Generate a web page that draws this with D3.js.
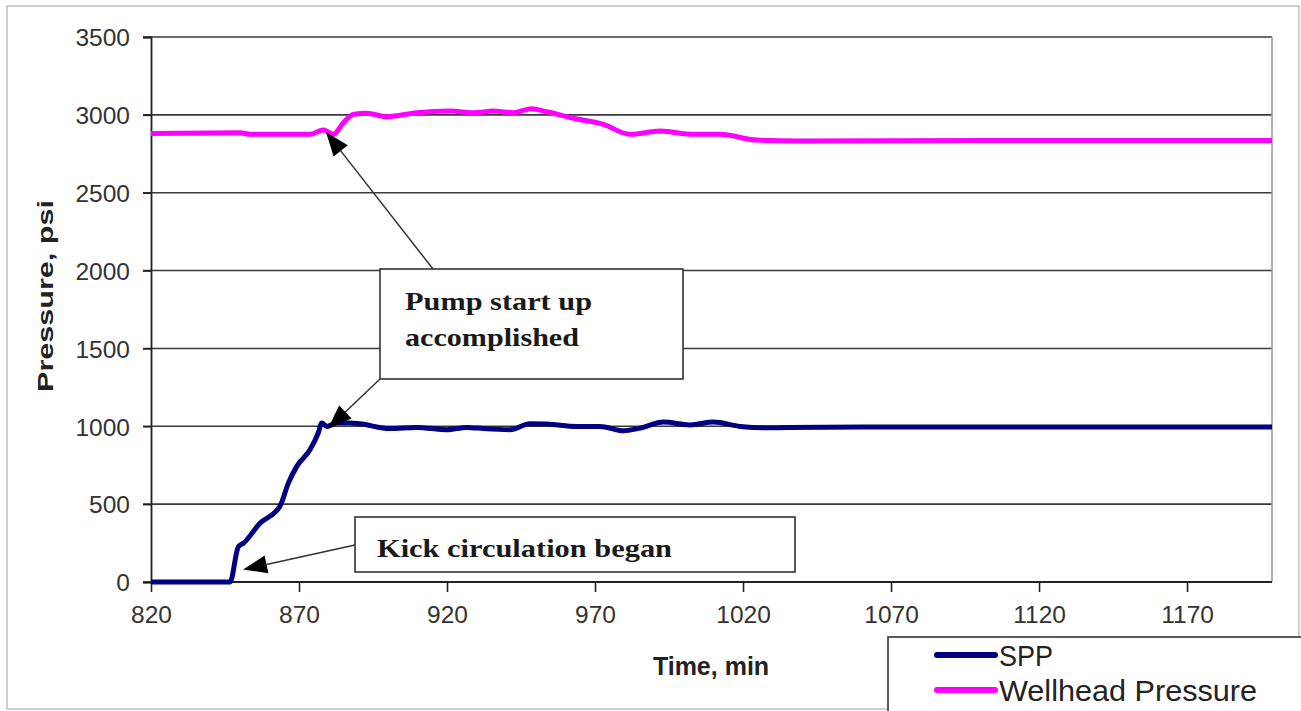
<!DOCTYPE html>
<html>
<head>
<meta charset="utf-8">
<script src="https://cdn.jsdelivr.net/npm/d3@7/dist/d3.min.js"></script>
<style>
  html, body { margin: 0; padding: 0; background: #fff; }
  svg { display: block; }
</style>
</head>
<body>
<svg id="chart" width="1301" height="711"></svg>
<script>
// ---- Data ----
const sppTime  = [820, 846.7, 849.5, 851.2, 856.8, 863.6, 866.4, 869.2, 873.7, 876.5, 877.7, 879.4, 882.7, 887.2, 890.6, 900.7, 909.8, 919.9, 926.7, 932.3, 941.3, 948, 953.7, 963.8, 971.7, 979.6, 985.2, 993.1, 1002.1, 1010, 1019, 1026.9, 1034.8, 1060, 1100, 1150, 1198.7];
const sppValue = [0, 0, 227, 249, 377, 488, 635, 741, 849, 957, 1021, 999, 1021, 1021, 1016, 985, 993, 978, 993, 985, 978, 1016, 1014, 999, 999, 971, 988, 1027, 1009, 1027, 999, 990, 992, 995, 995, 995, 995];

const whTime  = [820, 850.1, 853.4, 873.7, 878.2, 881.6, 885, 888.3, 892.9, 899.6, 909.8, 921, 928.9, 935.7, 942.4, 948.6, 953.7, 962.7, 972.8, 981.8, 992, 1003.2, 1012.2, 1024.6, 1038.8, 1100, 1198.7];
const whValue = [2880, 2885, 2875, 2875, 2902, 2875, 2950, 3003, 3010, 2988, 3014, 3024, 3014, 3024, 3014, 3040, 3020, 2978, 2939, 2875, 2896, 2875, 2875, 2838, 2832, 2835, 2835];

const xTicks = [820, 870, 920, 970, 1020, 1070, 1120, 1170];
const yTicks = [0, 500, 1000, 1500, 2000, 2500, 3000, 3500];
const seriesNames = ["SPP", "Wellhead Pressure"];
const seriesColors = ["#000080", "#ff00ff"];
const annotationLines = [["Pump start up", "accomplished"], ["Kick circulation began"]];
// arrow targets in data coordinates (time, psi)
const arrowTargetTime  = [879.1, 879.8, 851.1];
const arrowTargetValue = [2890, 985, 80];

// ---- Layout ----
const svg = d3.select("#chart");
const x = d3.scaleLinear().domain([820, 1198.7]).range([151, 1272]);
const y = d3.scaleLinear().domain([0, 3500]).range([582, 37]);
const sans = "Liberation Sans, Arial, sans-serif";

// outer frame
svg.append("rect").attr("x", 7).attr("y", 6).attr("width", 1292).attr("height", 703)
  .attr("fill", "#fff").attr("stroke", "#b0b0b0").attr("stroke-width", 1.2);

// gridlines
svg.append("g").selectAll("line").data(yTicks).join("line")
  .attr("x1", 143).attr("x2", 1272)
  .attr("y1", d => y(d)).attr("y2", d => y(d))
  .attr("stroke", "#3a3a3a").attr("stroke-width", 1.6);

// right border
svg.append("line").attr("x1", 1272).attr("x2", 1272).attr("y1", y(3500)).attr("y2", y(0))
  .attr("stroke", "#999").attr("stroke-width", 1.5);

// Y axis
const yAxis = svg.append("g").attr("transform", "translate(151,0)")
  .call(d3.axisLeft(y).tickValues(yTicks).tickSize(8).tickPadding(13).tickFormat(d3.format("d")));
yAxis.select(".domain").attr("stroke", "#222").attr("stroke-width", 1.8);
yAxis.selectAll(".tick line").attr("stroke", "#222").attr("stroke-width", 1.6);
yAxis.selectAll(".tick text").attr("font-family", sans)
  .attr("font-size", 24.5).attr("fill", "#333").attr("dy", "0.36em");

// X axis
const xAxis = svg.append("g").attr("transform", `translate(0,${y(0)})`)
  .call(d3.axisBottom(x).tickValues(xTicks).tickSize(10).tickPadding(14).tickFormat(d3.format("d")));
xAxis.select(".domain").attr("stroke", "#222").attr("stroke-width", 1.8).attr("d", `M151,0H1272`);
xAxis.selectAll(".tick line").attr("stroke", "#222").attr("stroke-width", 1.6);
xAxis.selectAll(".tick text").attr("font-family", sans)
  .attr("font-size", 24.5).attr("fill", "#333");

// axis titles
svg.append("text").attr("x", 711).attr("y", 675).attr("text-anchor", "middle")
  .attr("font-family", sans).attr("font-weight", "bold")
  .attr("font-size", 25).attr("fill", "#222").text("Time, min");
svg.append("text").attr("transform", "translate(53,296) rotate(-90)").attr("text-anchor", "middle")
  .attr("font-family", sans).attr("font-weight", "bold")
  .attr("font-size", 22).attr("fill", "#222")
  .attr("textLength", 192).attr("lengthAdjust", "spacingAndGlyphs").text("Pressure, psi");

// lines
const line = d3.line().x(d => x(d[0])).y(d => y(d[1])).curve(d3.curveMonotoneX);
const sppData = sppTime.map((t, i) => [t, sppValue[i]]);
const whData = whTime.map((t, i) => [t, whValue[i]]);
svg.append("path").datum(whData).attr("d", line).attr("fill", "none")
  .attr("stroke", seriesColors[1]).attr("stroke-width", 5).attr("stroke-linejoin", "round");
svg.append("path").datum(sppData).attr("d", line).attr("fill", "none")
  .attr("stroke", seriesColors[0]).attr("stroke-width", 5).attr("stroke-linejoin", "round");

// annotation boxes
const serif = "Liberation Serif, Times New Roman, serif";
const box1 = {x: 380, y: 269, w: 303, h: 110};
const box2 = {x: 355, y: 517, w: 440, h: 55};
[box1, box2].forEach(b => {
  svg.append("rect").attr("x", b.x).attr("y", b.y).attr("width", b.w).attr("height", b.h)
    .attr("fill", "#fff").attr("stroke", "#333").attr("stroke-width", 1.6);
});
svg.append("text").attr("x", 405).attr("y", 310).attr("font-family", serif).attr("font-weight", "bold")
  .attr("font-size", 26).attr("fill", "#1a1a1a").attr("textLength", 187).attr("lengthAdjust", "spacingAndGlyphs")
  .text(annotationLines[0][0]);
svg.append("text").attr("x", 405).attr("y", 346).attr("font-family", serif).attr("font-weight", "bold")
  .attr("font-size", 26).attr("fill", "#1a1a1a").attr("textLength", 174).attr("lengthAdjust", "spacingAndGlyphs")
  .text(annotationLines[0][1]);
svg.append("text").attr("x", 377).attr("y", 557).attr("font-family", serif).attr("font-weight", "bold")
  .attr("font-size", 26).attr("fill", "#1a1a1a").attr("textLength", 295).attr("lengthAdjust", "spacingAndGlyphs")
  .text(annotationLines[1][0]);

// arrows
const arrowStarts = [[433, 269], [380, 379], [355, 545]];
arrowStarts.forEach((s, i) => {
  const tx = x(arrowTargetTime[i]), ty = y(arrowTargetValue[i]);
  const dx = tx - s[0], dy = ty - s[1];
  const len = Math.hypot(dx, dy);
  const ux = dx / len, uy = dy / len;
  const L = 24, W = 9;
  const bx = tx - ux * L, by = ty - uy * L;
  svg.append("line").attr("x1", s[0]).attr("y1", s[1]).attr("x2", bx).attr("y2", by)
    .attr("stroke", "#333").attr("stroke-width", 1.5);
  svg.append("path")
    .attr("d", `M${tx},${ty}L${bx - uy * W},${by + ux * W}L${bx + uy * W},${by - ux * W}Z`)
    .attr("fill", "#000");
});

// legend
svg.append("rect").attr("x", 888).attr("y", 637).attr("width", 440).attr("height", 120)
  .attr("fill", "#fff").attr("stroke", "#333").attr("stroke-width", 1.6);
const legendWidths = [54, 258];
seriesNames.forEach((name, i) => {
  const yy = 655 + i * 35;
  svg.append("line").attr("x1", 937).attr("x2", 995).attr("y1", yy).attr("y2", yy)
    .attr("stroke", seriesColors[i]).attr("stroke-width", 6).attr("stroke-linecap", "round");
  svg.append("text").attr("x", 999).attr("y", yy + 11)
    .attr("font-family", sans).attr("font-size", 29).attr("fill", "#222")
    .attr("textLength", legendWidths[i]).attr("lengthAdjust", "spacingAndGlyphs")
    .text(name);
});
</script>
</body>
</html>
